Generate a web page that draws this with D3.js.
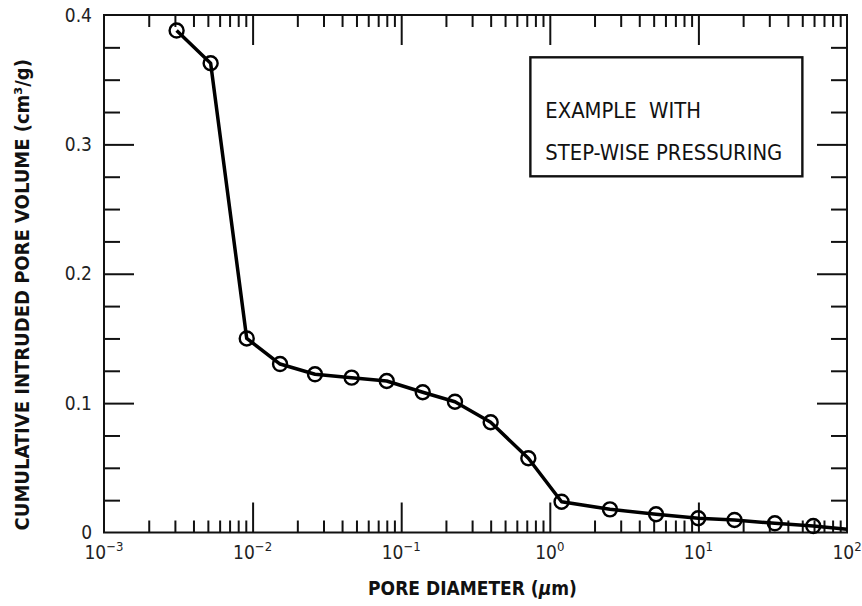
<!DOCTYPE html>
<html>
<head>
<meta charset="utf-8">
<script src="https://cdn.jsdelivr.net/npm/d3@7"></script>
<style>
    body { margin: 0; background: #fff; }
    svg { display: block; font-family: "DejaVu Sans Condensed", "DejaVu Sans", sans-serif; }
</style>
</head>
<body>
<svg id="chart" width="862" height="606"></svg>
<script>
// pore diameter (um) and cumulative intruded volume (cm3/g) at each pressure step
const diameters = [0.00308, 0.00522, 0.00913, 0.0153, 0.0263, 0.0464, 0.0799, 0.1396, 0.230, 0.400,
    0.717, 1.20, 2.54, 5.19, 9.98, 17.5, 32.7, 59.3];
const volumes = [0.388, 0.3627, 0.150, 0.1302, 0.1223, 0.1197, 0.1171, 0.1084, 0.1011, 0.0852,
    0.0574, 0.0238, 0.0179, 0.0141, 0.0110, 0.0097, 0.0071, 0.0050];
// curve carries on to the edge of the plot without a marker
const tailDiameter = [100];
const tailVolume = [0.0025];

const xMajorTicks = [1e-3, 1e-2, 1e-1, 1e0, 1e1, 1e2];
const xExponents = ["\u22123", "\u22122", "\u22121", "0", "1", "2"];
const yMajorTicks = [0, 0.1, 0.2, 0.3, 0.4];
const noteLines = ["EXAMPLE  WITH", "STEP-WISE PRESSURING"];

const svg = d3.select('#chart');
let w = +svg.attr('width');
let h = +svg.attr('height');

const chartMargins = {
    left: 104,
    right: 15,
    top: 15,
    bottom: 73.5
};
w -= (chartMargins.left + chartMargins.right);
h -= (chartMargins.top + chartMargins.bottom);

const xScale = d3.scaleLog()
    .domain([1e-3, 1e2])
    .range([0, w]);

const yScale = d3.scaleLinear()
    .domain([0, 0.4])
    .range([h, 0]);

// minor ticks 2..9 in each decade
let xMinorTicks = [];
xMajorTicks.slice(0, -1).forEach(d => {
    for (let k = 2; k <= 9; k++) xMinorTicks.push(d * k);
});
const yMinorTicks = d3.range(0, 0.4001, 0.025).filter(v => Math.abs(v * 10 - Math.round(v * 10)) > 1e-6);

const chartGroup = svg.append('g')
    .attr('transform', `translate(${chartMargins.left},${chartMargins.top})`);

//#region axes (ticks point inward on all four sides)
function tickAxis(axisFn, scale, ticks, size, transform) {
    const g = chartGroup.append('g')
        .attr('transform', transform)
        .call(axisFn(scale).tickValues(ticks).tickSize(size).tickFormat(''));
    g.selectAll('.domain').remove();
    g.selectAll('.tick line').attr('stroke', '#111').attr('stroke-width', 2);
    return g;
}

tickAxis(d3.axisBottom, xScale, xMinorTicks, -12, `translate(0,${h})`);
tickAxis(d3.axisBottom, xScale, xMajorTicks.slice(1, -1), -30, `translate(0,${h})`);
tickAxis(d3.axisTop, xScale, xMinorTicks, -12, 'translate(0,0)');
tickAxis(d3.axisTop, xScale, xMajorTicks.slice(1, -1), -30, 'translate(0,0)');
tickAxis(d3.axisLeft, yScale, yMinorTicks, -16, 'translate(0,0)');
tickAxis(d3.axisLeft, yScale, yMajorTicks.slice(1, -1), -30, 'translate(0,0)');
tickAxis(d3.axisRight, yScale, yMinorTicks, -16, `translate(${w},0)`);
tickAxis(d3.axisRight, yScale, yMajorTicks.slice(1, -1), -30, `translate(${w},0)`);

chartGroup.append('rect')
    .attr('x', 0)
    .attr('y', 0)
    .attr('width', w)
    .attr('height', h)
    .attr('fill', 'none')
    .attr('stroke', '#111')
    .attr('stroke-width', 2);

// y tick labels
chartGroup.append('g')
    .selectAll('text')
    .data(yMajorTicks)
    .enter()
    .append('text')
    .attr('x', -12)
    .attr('y', d => yScale(d))
    .attr('dy', '0.35em')
    .attr('text-anchor', 'end')
    .style('font-size', '19px')
    .attr('fill', '#222')
    .text(d => d === 0 ? '0' : d3.format('.1f')(d));

// x tick labels as 10 with superscript exponent
const xLabels = chartGroup.append('g')
    .selectAll('text')
    .data(xMajorTicks)
    .enter()
    .append('text')
    .attr('x', d => xScale(d))
    .attr('y', h + 26)
    .attr('text-anchor', 'middle')
    .style('font-size', '19px')
    .attr('fill', '#222');
xLabels.append('tspan').text('10');
xLabels.append('tspan')
    .attr('dy', -8)
    .style('font-size', '13px')
    .text((d, i) => xExponents[i]);
//#endregion

//#region curve and markers
const pts = diameters.map((d, i) => [d, volumes[i]]);
const linePts = pts.concat(tailDiameter.map((d, i) => [d, tailVolume[i]]));

const line = d3.line()
    .x(d => xScale(d[0]))
    .y(d => yScale(d[1]));

chartGroup.append('path')
    .datum(linePts)
    .attr('d', line)
    .attr('fill', 'none')
    .attr('stroke', '#000')
    .attr('stroke-width', 3.5)
    .attr('stroke-linejoin', 'round');

chartGroup.append('g')
    .selectAll('circle')
    .data(pts)
    .enter()
    .append('circle')
    .attr('cx', d => xScale(d[0]))
    .attr('cy', d => yScale(d[1]))
    .attr('r', 7)
    .attr('fill', 'none')
    .attr('stroke', '#000')
    .attr('stroke-width', 2.4);
//#endregion

//#region note box
const boxX = xScale(0.74);
const boxY = yScale(0.3673);

chartGroup.append('rect')
    .attr('x', boxX)
    .attr('y', boxY)
    .attr('width', 272)
    .attr('height', 119)
    .attr('fill', '#fff')
    .attr('stroke', '#111')
    .attr('stroke-width', 2.4);

chartGroup.append('g')
    .selectAll('text')
    .data(noteLines)
    .enter()
    .append('text')
    .attr('x', boxX + 15)
    .attr('y', (d, i) => boxY + 61 + i * 42)
    .style('font-size', '21.8px')
    .style('white-space', 'pre')
    .attr('fill', '#111')
    .text(d => d);
//#endregion

// axis titles
const xTitle = svg.append('text')
    .attr('x', chartMargins.left + w / 2 - 3)
    .attr('y', 595)
    .attr('text-anchor', 'middle')
    .style('font-size', '19px')
    .style('font-weight', 'bold')
    .attr('fill', '#111');
xTitle.append('tspan').text('PORE DIAMETER (');
xTitle.append('tspan').style('font-style', 'italic').text('\u03bc');
xTitle.append('tspan').text('m)');

svg.append('text')
    .attr('transform', `translate(29,${chartMargins.top + h / 2 + 21}) rotate(-90)`)
    .attr('text-anchor', 'middle')
    .style('font-size', '20px')
    .style('font-weight', 'bold')
    .attr('fill', '#111')
    .text('CUMULATIVE INTRUDED PORE VOLUME (cm\u00b3/g)');
</script>
</body>
</html>
